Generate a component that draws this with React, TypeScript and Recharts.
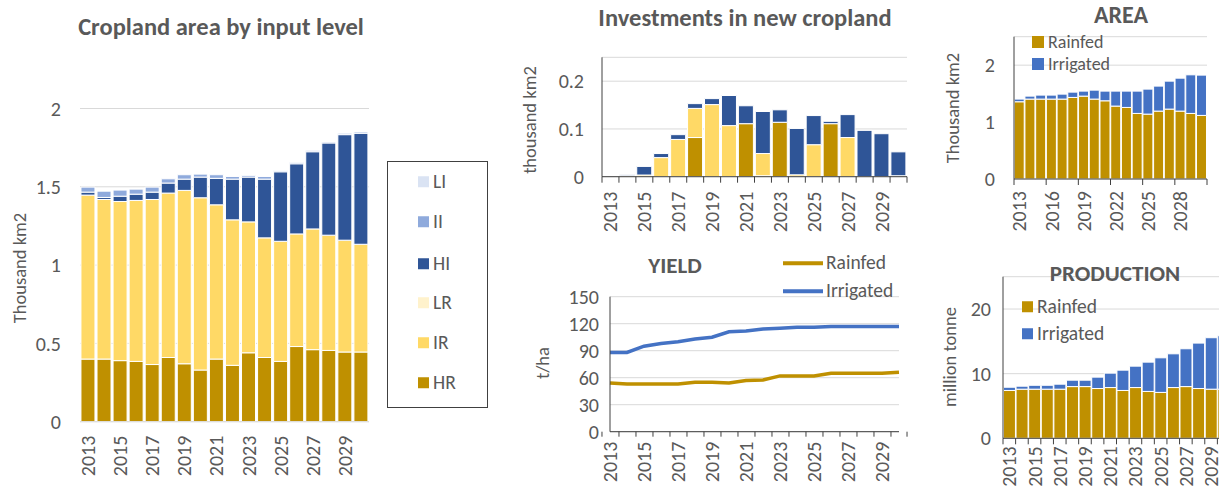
import React from 'react';
import { BarChart, Bar, ComposedChart, Line, XAxis, YAxis, CartesianGrid } from 'recharts';

const years = ['2013', '2014', '2015', '2016', '2017', '2018', '2019', '2020', '2021', '2022', '2023', '2024', '2025', '2026', '2027', '2028', '2029', '2030'];

// cropland area by input level (thousand km2)
const hrArea = [0.40, 0.40, 0.39, 0.385, 0.365, 0.41, 0.37, 0.33, 0.40, 0.36, 0.44, 0.41, 0.385, 0.48, 0.46, 0.455, 0.445, 0.445];
const irArea = [1.047, 1.019, 1.016, 1.028, 1.054, 1.05, 1.107, 1.10, 0.985, 0.929, 0.836, 0.764, 0.767, 0.719, 0.771, 0.736, 0.714, 0.688];
const lrArea = [0, 0, 0, 0, 0, 0, 0, 0, 0, 0, 0, 0, 0, 0, 0, 0, 0, 0];
const hiArea = [0.019, 0.013, 0.034, 0.040, 0.047, 0.064, 0.072, 0.132, 0.169, 0.260, 0.286, 0.375, 0.444, 0.448, 0.493, 0.589, 0.674, 0.709];
const iiArea = [0.032, 0.040, 0.039, 0.032, 0.032, 0.027, 0.028, 0.019, 0.023, 0.017, 0.011, 0.017, 0.007, 0.009, 0.009, 0.006, 0.009, 0.008];
const liArea = [0, 0, 0, 0, 0, 0, 0, 0, 0, 0, 0, 0, 0, 0, 0, 0, 0, 0];

// investments in new cropland (thousand km2)
const invHR = [0, 0.002, 0, 0, 0, 0.082, 0, 0, 0.111, 0.002, 0.114, 0, 0, 0.111, 0, 0, 0, 0.002];
const invIR = [0, 0, 0.0035, 0.040, 0.078, 0.061, 0.151, 0.107, 0, 0.0465, 0, 0.004, 0.067, 0, 0.082, 0, 0, 0];
const invHI = [0, 0.002, 0.018, 0.0085, 0.010, 0.010, 0.0125, 0.063, 0.0375, 0.088, 0.026, 0.097, 0.061, 0.005, 0.048, 0.097, 0.090, 0.050];

// AREA (thousand km2)
const areaRainfed = [1.357, 1.404, 1.404, 1.404, 1.404, 1.433, 1.456, 1.404, 1.374, 1.281, 1.257, 1.152, 1.140, 1.193, 1.228, 1.193, 1.152, 1.117];
const areaIrrigated = [0.047, 0.052, 0.070, 0.070, 0.087, 0.093, 0.088, 0.157, 0.170, 0.263, 0.287, 0.392, 0.439, 0.439, 0.491, 0.579, 0.678, 0.708];

// PRODUCTION (million tonne)
const prodRainfed = [7.4, 7.6, 7.6, 7.6, 7.6, 8.0, 8.0, 7.7, 7.85, 7.4, 7.85, 7.25, 7.1, 7.85, 8.0, 7.7, 7.6, 7.6];
const prodIrrigated = [0.5, 0.46, 0.6, 0.6, 0.77, 0.99, 0.99, 1.76, 2.23, 3.14, 3.31, 4.53, 5.35, 5.22, 5.85, 7.03, 7.96, 8.27];

// YIELD (t/ha)
const yieldRainfed = [54, 53, 53, 53, 53, 55, 55, 54, 57, 57.5, 62, 62, 62, 65, 65, 65, 65, 66];
const yieldIrrigated = [88, 88, 95, 98, 100, 103, 105, 111, 112, 114, 115, 116, 116, 117, 117, 117, 117, 117];

const C = {
  HR: '#BF9000',
  IR: '#FFD966',
  LR: '#FFF2CC',
  HI: '#2F5597',
  II: '#8FAADC',
  LI: '#DAE3F3',
  rain: '#BF9000',
  irr: '#4472C4',
};

const FONT = "Calibri, Carlito, Lato, 'Noto Sans', sans-serif";
const TEXT = '#595959';
const GRID = '#d9d9d9';
const AXIS = '#404040';
const FS = 20;
const LEG = 19.5;

const cropData = years.map((year, i) => ({
  year, HR: hrArea[i], IR: irArea[i], LR: lrArea[i], HI: hiArea[i], II: iiArea[i], LI: liArea[i],
}));
const invData = years.map((year, i) => ({ year, HR: invHR[i], IR: invIR[i], HI: invHI[i] }));
const areaData = years.map((year, i) => ({ year, rainfed: areaRainfed[i], irrigated: areaIrrigated[i] }));
const prodData = years.map((year, i) => ({ year, rainfed: prodRainfed[i], irrigated: prodIrrigated[i] }));
const yieldData = years.map((year, i) => ({ year, rainfed: yieldRainfed[i], irrigated: yieldIrrigated[i] }));

type TickOpts = {
  band: number;
  labelEvery: number;
  tickEvery: number;
  tickLen: number;
  gap: number;
  count: number;
  stroke: string;
};

function YearTick(props: any) {
  const { x, y, index, payload, band, labelEvery, tickEvery, tickLen, gap, count, stroke } = props;
  const left = x - band / 2;
  return (
    <g>
      {tickLen > 0 && index % tickEvery === 0 && (
        <line x1={left} x2={left} y1={y} y2={y + tickLen} stroke={stroke} />
      )}
      {tickLen > 0 && index === count - 1 && count % tickEvery === 0 && (
        <line x1={x + band / 2} x2={x + band / 2} y1={y} y2={y + tickLen} stroke={stroke} />
      )}
      {index % labelEvery === 0 && (
        <text
          x={0}
          y={0}
          transform={`translate(${x},${y + gap}) rotate(-90)`}
          textAnchor="end"
          dominantBaseline="central"
          fill={TEXT}
          fontSize={FS}
          fontFamily={FONT}
        >
          {payload.value}
        </text>
      )}
    </g>
  );
}

const yearTick = (o: TickOpts) => (p: any) => <YearTick {...p} {...o} />;

function Title({ text, cx, cy, size = 23 }: { text: string; cx: number; cy: number; size?: number }) {
  return (
    <div style={{ position: 'absolute', left: cx, top: cy, transform: 'translate(-50%, -50%)', whiteSpace: 'nowrap', fontWeight: 700, fontSize: size, lineHeight: 1, color: TEXT }}>
      {text}
    </div>
  );
}

function AxisTitle({ text, cx, cy }: { text: string; cx: number; cy: number }) {
  return (
    <div style={{ position: 'absolute', left: cx, top: cy, transform: 'translate(-50%, -50%) rotate(-90deg)', whiteSpace: 'nowrap', fontSize: 18.5, lineHeight: 1, color: TEXT }}>
      {text}
    </div>
  );
}

function Swatch({ x, y, color, label, size = 11, fontSize = LEG }: { x: number; y: number; color: string; label: string; size?: number; fontSize?: number }) {
  return (
    <div style={{ position: 'absolute', left: x, top: y, transform: 'translateY(-50%)', display: 'flex', alignItems: 'center', whiteSpace: 'nowrap', fontSize, lineHeight: 1, color: TEXT }}>
      <span style={{ display: 'inline-block', width: size, height: size, background: color, marginRight: 4 }} />
      {label}
    </div>
  );
}

function LineKey({ x, y, color, label }: { x: number; y: number; color: string; label: string }) {
  return (
    <div style={{ position: 'absolute', left: x, top: y, transform: 'translateY(-50%)', display: 'flex', alignItems: 'center', whiteSpace: 'nowrap', fontSize: LEG, lineHeight: 1, color: TEXT }}>
      <span style={{ display: 'inline-block', width: 40, height: 4, background: color, marginRight: 3 }} />
      {label}
    </div>
  );
}

const cropLegend = [
  { key: 'LI', color: C.LI, y: 182 },
  { key: 'II', color: C.II, y: 222 },
  { key: 'HI', color: C.HI, y: 264 },
  { key: 'LR', color: C.LR, y: 303 },
  { key: 'IR', color: C.IR, y: 343 },
  { key: 'HR', color: C.HR, y: 383 },
];

const tickStyle = { fill: TEXT, fontSize: FS, fontFamily: FONT };

export default function App() {
  return (
    <div style={{ position: 'absolute', left: 0, top: 0, width: 1219, height: 490, overflow: 'hidden', background: '#fff', fontFamily: FONT }}>
      {/* Cropland area by input level */}
      <div style={{ position: 'absolute', left: 0, top: 0 }}>
        <BarChart width={380} height={490} data={cropData} margin={{ top: 108.5, right: 11, bottom: 0, left: 0 }} barCategoryGap="6%">
          <CartesianGrid vertical={false} stroke={GRID} />
          <XAxis
            dataKey="year"
            height={68.3}
            interval={0}
            tickSize={0}
            tickMargin={0}
            axisLine={{ stroke: GRID }}
            tickLine={false}
            tick={yearTick({ band: 289 / 18, labelEvery: 2, tickEvery: 1, tickLen: 0, gap: 14, count: 18, stroke: AXIS })}
          />
          <YAxis width={80} domain={[0, 2]} ticks={[0, 0.5, 1, 1.5, 2]} interval={0} axisLine={false} tickLine={false} tickSize={0} tickMargin={19} tick={tickStyle} />
          <Bar dataKey="HR" stackId="a" fill={C.HR} stroke="#fff" strokeWidth={1} isAnimationActive={false} />
          <Bar dataKey="IR" stackId="a" fill={C.IR} stroke="#fff" strokeWidth={1} isAnimationActive={false} />
          <Bar dataKey="LR" stackId="a" fill={C.LR} stroke="#fff" strokeWidth={1} isAnimationActive={false} />
          <Bar dataKey="HI" stackId="a" fill={C.HI} stroke="#fff" strokeWidth={1} isAnimationActive={false} />
          <Bar dataKey="II" stackId="a" fill={C.II} stroke="#fff" strokeWidth={1} isAnimationActive={false} />
          <Bar dataKey="LI" stackId="a" fill={C.LI} stroke="#fff" strokeWidth={1} isAnimationActive={false} />
        </BarChart>
      </div>
      <Title text="Cropland area by input level" cx={221} cy={27} size={24.5} />
      <AxisTitle text="Thousand km2" cx={20} cy={268} />
      <div style={{ position: 'absolute', left: 387, top: 161, width: 99, height: 245, border: '1px solid #404040' }} />
      {cropLegend.map((l) => (
        <Swatch key={l.key} x={418} y={l.y} color={l.color} label={l.key} />
      ))}

      {/* Investments in new cropland */}
      <div style={{ position: 'absolute', left: 510, top: 0 }}>
        <BarChart width={410} height={240} data={invData} margin={{ top: 57.3, right: 13, bottom: 0, left: 0 }} barCategoryGap="5%">
          <CartesianGrid vertical={false} stroke={GRID} />
          <XAxis
            dataKey="year"
            height={63.3}
            interval={0}
            tickSize={0}
            tickMargin={0}
            axisLine={{ stroke: AXIS }}
            tickLine={false}
            tick={yearTick({ band: 305 / 18, labelEvery: 2, tickEvery: 1, tickLen: 6, gap: 15, count: 18, stroke: AXIS })}
          />
          <YAxis width={92} domain={[0, 0.25]} ticks={[0, 0.1, 0.2]} interval={0} axisLine={{ stroke: AXIS }} tickLine={false} tickSize={0} tickMargin={18} tick={tickStyle} />
          <Bar dataKey="HR" stackId="a" fill={C.HR} stroke="#fff" strokeWidth={1} isAnimationActive={false} />
          <Bar dataKey="IR" stackId="a" fill={C.IR} stroke="#fff" strokeWidth={1} isAnimationActive={false} />
          <Bar dataKey="HI" stackId="a" fill={C.HI} stroke="#fff" strokeWidth={1} isAnimationActive={false} />
        </BarChart>
      </div>
      <Title text="Investments in new cropland" cx={745} cy={18} size={24.5} />
      <AxisTitle text="thousand km2" cx={530} cy={120} />

      {/* YIELD */}
      <div style={{ position: 'absolute', left: 510, top: 240 }}>
        <ComposedChart width={410} height={250} data={yieldData} margin={{ top: 56.7, right: 21, bottom: 0, left: 0 }}>
          <CartesianGrid vertical={false} stroke={GRID} />
          <XAxis
            dataKey="year"
            height={58.3}
            interval={0}
            tickSize={0}
            tickMargin={0}
            axisLine={{ stroke: AXIS }}
            tickLine={false}
            tick={yearTick({ band: 289 / 18, labelEvery: 2, tickEvery: 1, tickLen: 5, gap: 10, count: 18, stroke: AXIS })}
          />
          <YAxis width={100} domain={[0, 150]} ticks={[0, 30, 60, 90, 120, 150]} interval={0} axisLine={{ stroke: AXIS }} tickLine={false} tickSize={0} tickMargin={11} tick={tickStyle} />
          <Line dataKey="rainfed" stroke={C.rain} strokeWidth={3.5} dot={false} isAnimationActive={false} />
          <Line dataKey="irrigated" stroke={C.irr} strokeWidth={3.5} dot={false} isAnimationActive={false} />
        </ComposedChart>
      </div>
      <Title text="YIELD" cx={675} cy={265} />
      <AxisTitle text="t/ha" cx={543} cy={363} />
      <LineKey x={783} y={263} color={C.rain} label="Rainfed" />
      <LineKey x={783} y={291} color={C.irr} label="Irrigated" />

      {/* AREA */}
      <div style={{ position: 'absolute', left: 920, top: 0 }}>
        <BarChart width={299} height={245} data={areaData} margin={{ top: 36.7, right: 12, bottom: 0, left: 0 }} barCategoryGap="2%">
          <CartesianGrid vertical={false} stroke={GRID} />
          <XAxis
            dataKey="year"
            height={66}
            interval={0}
            tickSize={0}
            tickMargin={0}
            axisLine={{ stroke: AXIS }}
            tickLine={false}
            tick={yearTick({ band: 193 / 18, labelEvery: 3, tickEvery: 3, tickLen: 6, gap: 12, count: 18, stroke: AXIS })}
          />
          <YAxis width={94} domain={[0, 2.5]} ticks={[0, 1, 2]} interval={0} axisLine={{ stroke: AXIS }} tickLine={false} tickSize={0} tickMargin={19} tick={tickStyle} />
          <Bar dataKey="rainfed" stackId="a" fill={C.rain} stroke="#fff" strokeWidth={1} isAnimationActive={false} />
          <Bar dataKey="irrigated" stackId="a" fill={C.irr} stroke="#fff" strokeWidth={1} isAnimationActive={false} />
        </BarChart>
      </div>
      <Title text="AREA" cx={1121} cy={15} size={24} />
      <AxisTitle text="Thousand km2" cx={953} cy={108} />
      <Swatch x={1032} y={41.5} color={C.rain} label="Rainfed" size={12} fontSize={18} />
      <Swatch x={1032} y={64} color={C.irr} label="Irrigated" size={12} fontSize={18} />

      {/* PRODUCTION */}
      <div style={{ position: 'absolute', left: 920, top: 250 }}>
        <BarChart width={310} height={240} data={prodData} margin={{ top: 26.7, right: 0, bottom: 0, left: 0 }} barCategoryGap="3.5%">
          <CartesianGrid vertical={false} stroke={GRID} />
          <XAxis
            dataKey="year"
            height={51.7}
            interval={0}
            tickSize={0}
            tickMargin={0}
            axisLine={{ stroke: AXIS }}
            tickLine={false}
            tick={yearTick({ band: 227 / 18, labelEvery: 2, tickEvery: 1, tickLen: 6, gap: 8, count: 18, stroke: AXIS })}
          />
          <YAxis width={83} domain={[0, 25]} ticks={[0, 10, 20]} interval={0} axisLine={{ stroke: AXIS }} tickLine={false} tickSize={0} tickMargin={12} tick={tickStyle} />
          <Bar dataKey="rainfed" stackId="a" fill={C.rain} stroke="#fff" strokeWidth={1} isAnimationActive={false} />
          <Bar dataKey="irrigated" stackId="a" fill={C.irr} stroke="#fff" strokeWidth={1} isAnimationActive={false} />
        </BarChart>
      </div>
      <Title text="PRODUCTION" cx={1115} cy={273} />
      <AxisTitle text="million tonne" cx={950} cy={357} />
      <Swatch x={1022} y={307} color={C.rain} label="Rainfed" size={11} />
      <Swatch x={1022} y={334} color={C.irr} label="Irrigated" size={11} />
    </div>
  );
}
